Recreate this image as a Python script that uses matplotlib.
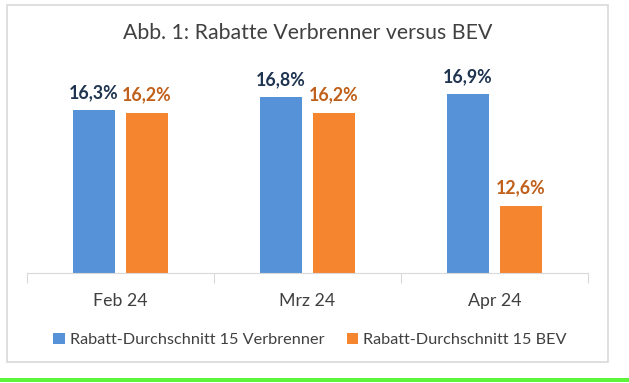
import matplotlib.pyplot as plt
import numpy as np
from matplotlib.patches import Rectangle

months = ["Feb 24", "Mrz 24", "Apr 24"]
verbrenner = [16.3, 16.8, 16.9]
bev = [16.2, 16.2, 12.6]
series_names = ["Rabatt-Durchschnitt 15 Verbrenner", "Rabatt-Durchschnitt 15 BEV"]
title = "Abb. 1: Rabatte Verbrenner versus BEV"

BLUE = "#5592d8"
ORANGE = "#f5852f"
BLUE_TXT = "#1f3450"
ORANGE_TXT = "#c0601a"
GREY_TXT = "#404040"

plt.rcParams["font.family"] = ["Lato", "DejaVu Sans"]

fig = plt.figure(figsize=(6.29, 3.83), dpi=100)

# outer chart frame and green strip at the bottom
fig.patches.append(Rectangle((7 / 629, 1 - 362 / 383), 601 / 629, 357 / 383,
                             transform=fig.transFigure, fill=False,
                             edgecolor="#d9d9d9", linewidth=1.2))
fig.patches.append(Rectangle((0, 1 - 382 / 383), 1, 4 / 383,
                             transform=fig.transFigure, color="#5cf53c", linewidth=0))

ax = fig.add_axes([27 / 629, 110 / 383, 561 / 629, 207 / 383])
x = np.arange(len(months))
w = 0.22
off = 0.142
b1 = ax.bar(x - off, verbrenner, w, color=BLUE, label=series_names[0])
b2 = ax.bar(x + off, bev, w, color=ORANGE, label=series_names[1])

ax.set_ylim(10, 18)
ax.set_xlim(-0.5, 2.5)
for s in ["top", "right", "left"]:
    ax.spines[s].set_visible(False)
ax.spines["bottom"].set_color("#d9d9d9")
ax.set_yticks([])
ax.set_xticks([-0.5, 0.5, 1.5, 2.5])
ax.set_xticklabels([])
ax.tick_params(axis="x", length=7, color="#d9d9d9")
for xi, m in zip(x, months):
    ax.text(xi, -0.135, m, transform=ax.get_xaxis_transform(), ha="center", va="center",
            fontsize=12.8, color=GREY_TXT)

for bars, vals, c in [(b1, verbrenner, BLUE_TXT), (b2, bev, ORANGE_TXT)]:
    for r, v in zip(bars, vals):
        ax.annotate(f"{v:.1f}%".replace(".", ","), (r.get_x() + r.get_width() / 2, v),
                    xytext=(0, 6.5), textcoords="offset points", ha="center", va="bottom",
                    fontsize=12.8, fontweight="bold", color=c)

fig.text(308 / 629, 1 - 33 / 383, title, ha="center", va="center", fontsize=15.3, color=GREY_TXT)

fig.legend(loc="center", bbox_to_anchor=(310 / 629, 1 - 340 / 383), ncol=2, frameon=False,
           fontsize=11.7, handlelength=0.7, handleheight=0.7, handletextpad=0.3,
           columnspacing=1.4, labelcolor=GREY_TXT)

fig.savefig("out.png", dpi=100)
